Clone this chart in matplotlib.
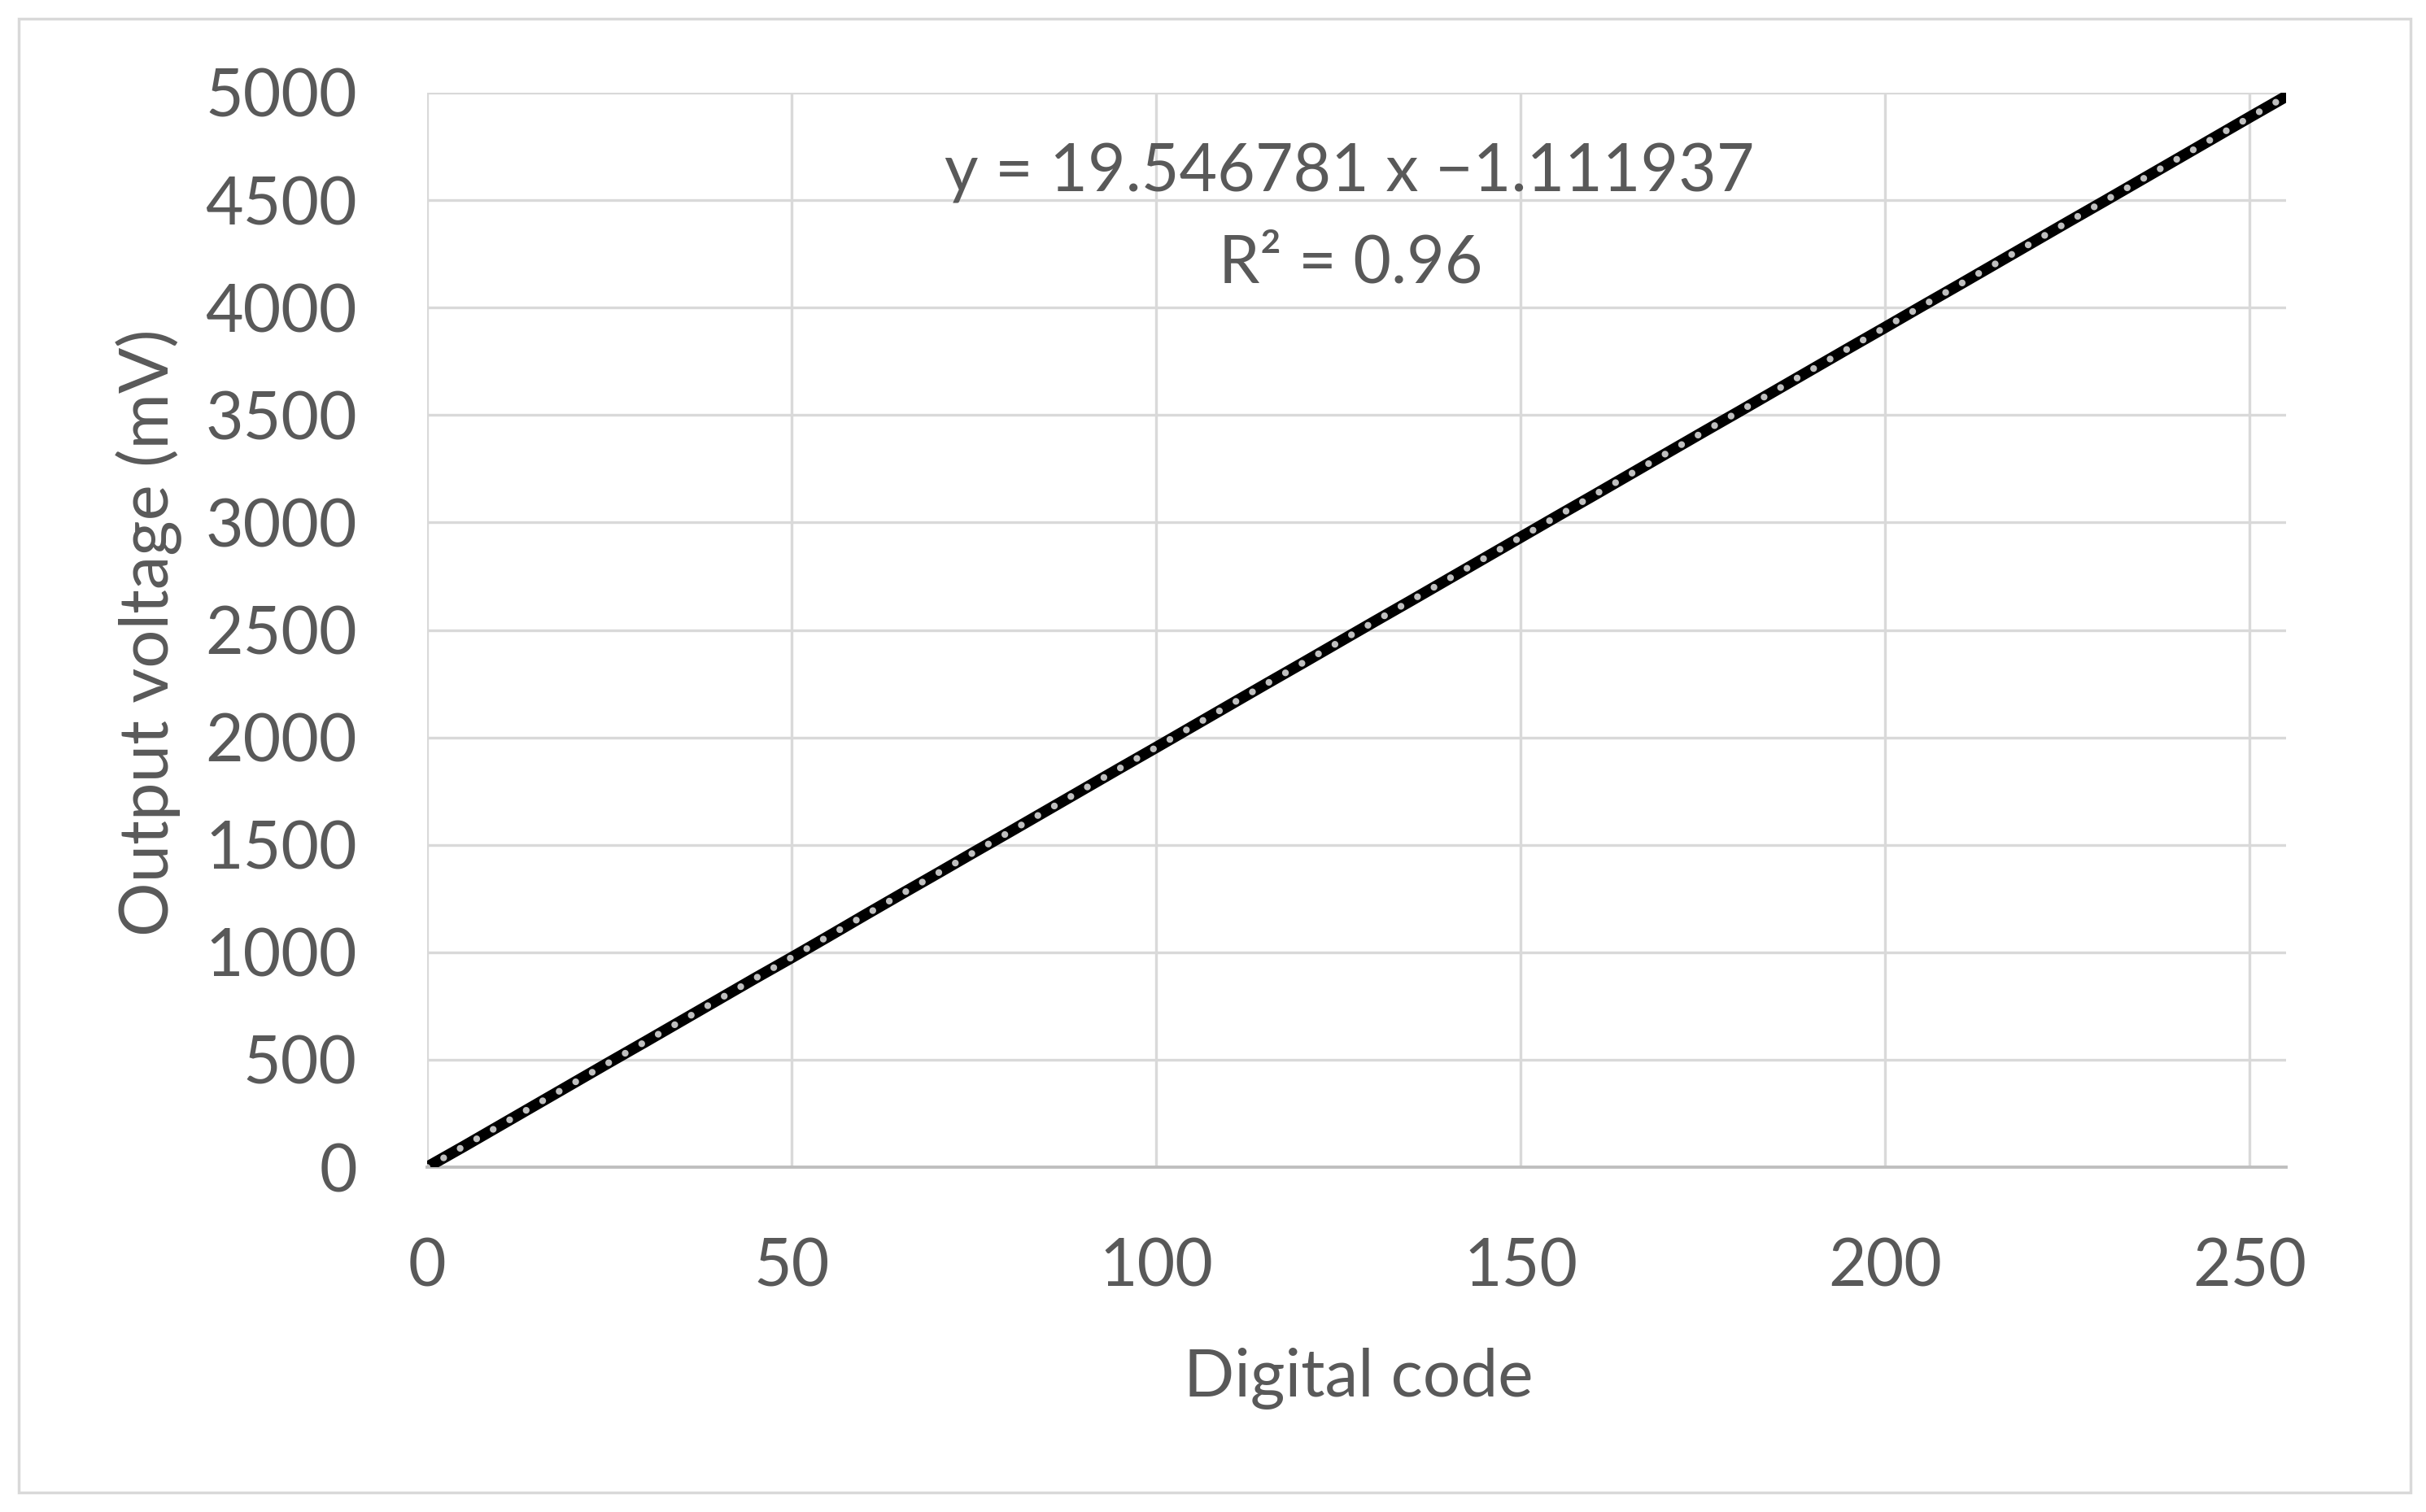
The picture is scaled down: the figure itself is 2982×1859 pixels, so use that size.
import numpy as np
import matplotlib.pyplot as plt
from matplotlib.patches import Rectangle

codes = [0, 5, 10, 15, 20, 25, 30, 35, 40, 45, 50, 55, 60, 65, 70, 75, 80, 85,
         90, 95, 100, 105, 110, 115, 120, 125, 130, 135, 140, 145, 150, 155,
         160, 165, 170, 175, 180, 185, 190, 195, 200, 205, 210, 215, 220, 225,
         230, 235, 240, 245, 250, 255]
voltage_mv = [0, 96, 194, 292, 390, 488, 585, 683, 781, 879, 975, 1073, 1172,
              1270, 1367, 1465, 1562, 1660, 1758, 1856, 1953, 2051, 2149, 2247,
              2344, 2442, 2540, 2637, 2735, 2833, 2931, 3029, 3126, 3224, 3322,
              3420, 3517, 3615, 3713, 3811, 3908, 4006, 4103, 4201, 4299, 4397,
              4494, 4592, 4690, 4788, 4886, 4983]

# trendline as printed on the chart
slope = 19.546781
intercept = -1.111937
r_squared = 0.96

x_ticks = [0, 50, 100, 150, 200, 250]
y_ticks = [0, 500, 1000, 1500, 2000, 2500, 3000, 3500, 4000, 4500, 5000]

plt.rcParams['font.family'] = ['Lato', 'DejaVu Sans']
txt_col = '#595959'
W, H = 2982, 1859

fig = plt.figure(figsize=(W / 100, H / 100), dpi=100)
ax = fig.add_axes([525 / W, 1 - 1435 / H, (2810 - 525) / W, (1435 - 114) / H])

ax.plot(codes, voltage_mv, color='black', lw=10, solid_capstyle='round', zorder=3)

xt = np.array([codes[0], codes[-1]])
ax.plot(xt, slope * xt + intercept, color='#bfbfbf', lw=6,
        linestyle=(0, (0.01, 2.8)), dash_capstyle='round', zorder=4)

ax.set_xlim(0, 255)
ax.set_ylim(0, 5000)
ax.set_xticks(x_ticks)
ax.set_yticks(y_ticks)
ax.grid(True, color='#d9d9d9', lw=2.4)
ax.set_axisbelow(True)
for s in ['top', 'right', 'left']:
    ax.spines[s].set_visible(False)
ax.spines['bottom'].set_color('#bfbfbf')
ax.spines['bottom'].set_linewidth(2.8)
ax.tick_params(length=0, labelsize=58, colors=txt_col)
ax.tick_params(axis='y', pad=62)
ax.tick_params(axis='x', pad=62)

fig.text(1659 / W, 1 - 235 / H, f'y = {slope:.6f} x \u2212{abs(intercept):.6f}',
         ha='center', va='baseline', fontsize=58, color=txt_col)
fig.text(1660 / W, 1 - 348 / H, f'R² = {r_squared:.2f}',
         ha='center', va='baseline', fontsize=58, color=txt_col)

fig.text(1670 / W, 1 - 1717 / H, 'Digital code', ha='center', va='baseline',
         fontsize=59, color=txt_col)
fig.text(183 / W, 1 - 778 / H, 'Output voltage (mV)', ha='center', va='center',
         rotation=90, fontsize=60, color=txt_col)

fig.patches.append(Rectangle((23 / W, 1 - 1835 / H), (2963 - 23) / W, (1835 - 23) / H,
                             transform=fig.transFigure, fill=False,
                             edgecolor='#d9d9d9', lw=2.5))

fig.savefig('out.png', dpi=100, facecolor='white')
